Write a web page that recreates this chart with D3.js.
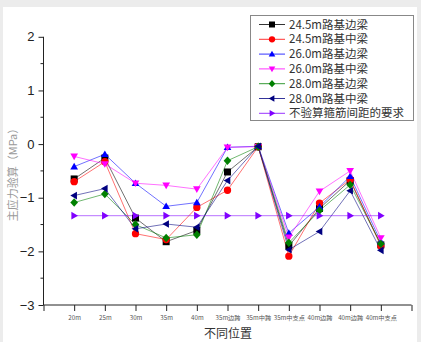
<!DOCTYPE html>
<html>
<head>
<meta charset="utf-8">
<script src="https://cdn.jsdelivr.net/npm/d3@7"></script>
<style>
  html, body { margin: 0; padding: 0; background: #ececec; }
  svg { display: block; }
</style>
</head>
<body>
<svg id="chart" width="421" height="342"></svg>
<script>
// Position categories along the x axis
const categories = ["20m", "25m", "30m", "35m", "40m", "35m边跨", "35m中跨", "35m中支点", "40m边跨", "40m边跨", "40m中支点"];

// Principal stress check values (MPa), one array per series
const s245Edge = [-0.65, -0.26, -1.38, -1.82, -1.61, -0.52, -0.05, -1.90, -1.20, -0.68, -1.88];
const s245Mid  = [-0.70, -0.33, -1.67, -1.78, -1.18, -0.86, -0.05, -2.09, -1.10, -0.66, -1.90];
const s260Edge = [-0.42, -0.19, -0.73, -1.16, -1.09, -0.06, -0.04, -1.66, -1.17, -0.60, -1.82];
const s260Mid  = [-0.23, -0.37, -0.73, -0.77, -0.84, -0.06, -0.05, -1.74, -0.88, -0.50, -1.75];
const s280Edge = [-1.09, -0.93, -1.50, -1.75, -1.69, -0.31, -0.05, -1.84, -1.24, -0.76, -1.86];
const s280Mid  = [-0.96, -0.83, -1.58, -1.49, -1.55, -0.68, -0.04, -1.97, -1.63, -0.87, -1.98];
const sLimit   = [-1.335, -1.335, -1.335, -1.335, -1.335, -1.335, -1.335, -1.335, -1.335, -1.335, -1.335];

const seriesNames = ["24.5m路基边梁", "24.5m路基中梁", "26.0m路基边梁", "26.0m路基中梁", "28.0m路基边梁", "28.0m路基中梁", "不验算箍筋间距的要求"];
const yTicks = [2, 1, 0, -1, -2, -3];

const series = [
  { name: seriesNames[0], values: s245Edge, color: "#000000", shape: "square" },
  { name: seriesNames[1], values: s245Mid,  color: "#ff0000", shape: "circle" },
  { name: seriesNames[2], values: s260Edge, color: "#0000ff", shape: "up" },
  { name: seriesNames[3], values: s260Mid,  color: "#ff00ff", shape: "down" },
  { name: seriesNames[4], values: s280Edge, color: "#008000", shape: "diamond" },
  { name: seriesNames[5], values: s280Mid,  color: "#000080", shape: "left" },
  { name: seriesNames[6], values: sLimit,   color: "#8000ff", shape: "right" }
];

const svg = d3.select("#chart");
svg.append("rect").attr("x", 3).attr("y", 7).attr("width", 414).attr("height", 335).attr("fill", "#ffffff");

const x = d3.scaleLinear().domain([0, 12]).range([43.5, 411.5]);
const y = d3.scaleLinear().domain([-3, 2]).range([305, 36.8]);

// Y axis: major ticks with labels, minor ticks in between
const yAxis = svg.append("g").attr("transform", "translate(43.5,0)");
yAxis.call(d3.axisLeft(y).tickValues(yTicks).tickSize(5).tickPadding(4).tickFormat(d3.format("d")));
yAxis.selectAll("text").attr("font-family", "Arial, 'Liberation Sans', sans-serif").attr("font-size", 13).attr("fill", "#222");
yAxis.selectAll("line, path").attr("stroke", "#222");
yAxis.select("path").attr("d", `M0,${y(-3)}V${y(2)}`);
const minor = d3.range(-2.5, 2, 1);
yAxis.selectAll(".minor").data(minor).join("line")
  .attr("class", "minor").attr("x1", 0).attr("x2", -3)
  .attr("y1", d => y(d)).attr("y2", d => y(d)).attr("stroke", "#222");

// X axis with category labels
const xAxis = svg.append("g").attr("transform", `translate(0,${y(-3)})`);
xAxis.call(d3.axisBottom(x).tickValues(d3.range(0, 13)).tickSize(6).tickPadding(5)
  .tickFormat(i => (i >= 1 && i <= categories.length) ? categories[i - 1] : ""));
xAxis.selectAll("text").attr("font-family", "'Noto Sans CJK SC', sans-serif").attr("font-size", 6.2).attr("fill", "#555");
xAxis.selectAll("line, path").attr("stroke", "#222");
xAxis.select("path").attr("d", `M${x(0)},0H${x(12)}`);

// Axis titles
svg.append("text").attr("x", 228).attr("y", 338).attr("text-anchor", "middle")
  .attr("font-family", "'Noto Sans CJK SC', sans-serif").attr("font-size", 12).attr("fill", "#333")
  .text("不同位置");
svg.append("text").attr("transform", "translate(17,172) rotate(-90)").attr("text-anchor", "middle")
  .attr("font-family", "'Noto Sans CJK SC', sans-serif").attr("font-size", 11).attr("fill", "#999")
  .text("主应力验算（MPa）");

// Marker path generator
function markerPath(shape, s) {
  const h = s / 2;
  switch (shape) {
    case "square": return `M${-h},${-h}H${h}V${h}H${-h}Z`;
    case "circle": return d3.symbol(d3.symbolCircle, Math.PI * h * h * 1.1)();
    case "up": return `M0,${-h * 1.1}L${h * 1.1},${h * 0.8}L${-h * 1.1},${h * 0.8}Z`;
    case "down": return `M0,${h * 1.1}L${h * 1.1},${-h * 0.8}L${-h * 1.1},${-h * 0.8}Z`;
    case "left": return `M${-h * 1.1},0L${h * 0.8},${-h * 1.1}L${h * 0.8},${h * 1.1}Z`;
    case "right": return `M${h * 1.1},0L${-h * 0.8},${-h * 1.1}L${-h * 0.8},${h * 1.1}Z`;
    case "diamond": return `M0,${-h * 1.2}L${h * 1.1},0L0,${h * 1.2}L${-h * 1.1},0Z`;
  }
}

const line = d3.line().x((d, i) => x(i + 1)).y(d => y(d));
const plot = svg.append("g");
series.forEach(s => {
  plot.append("path").attr("d", line(s.values)).attr("fill", "none")
    .attr("stroke", s.color).attr("stroke-width", 0.8).attr("stroke-opacity", 0.7);
});
series.forEach(s => {
  plot.selectAll(null).data(s.values).join("path")
    .attr("transform", (d, i) => `translate(${x(i + 1)},${y(d)})`)
    .attr("d", markerPath(s.shape, 7)).attr("fill", s.color);
});

// Legend
const lg = svg.append("g");
lg.append("rect").attr("x", 250.5).attr("y", 15.5).attr("width", 163).attr("height", 105)
  .attr("fill", "#fff").attr("stroke", "#888").attr("stroke-width", 1);
series.forEach((s, i) => {
  const ly = 24.5 + i * 14.8;
  lg.append("line").attr("x1", 259).attr("x2", 285).attr("y1", ly).attr("y2", ly)
    .attr("stroke", s.color).attr("stroke-width", 0.8);
  lg.append("path").attr("transform", `translate(272,${ly})`).attr("d", markerPath(s.shape, 6)).attr("fill", s.color);
  lg.append("text").attr("x", 289).attr("y", ly).attr("dy", "0.36em")
    .attr("font-family", "'Noto Sans CJK SC', Arial, sans-serif").attr("font-size", 11.5).attr("fill", "#333")
    .text(s.name);
});
</script>
</body>
</html>
